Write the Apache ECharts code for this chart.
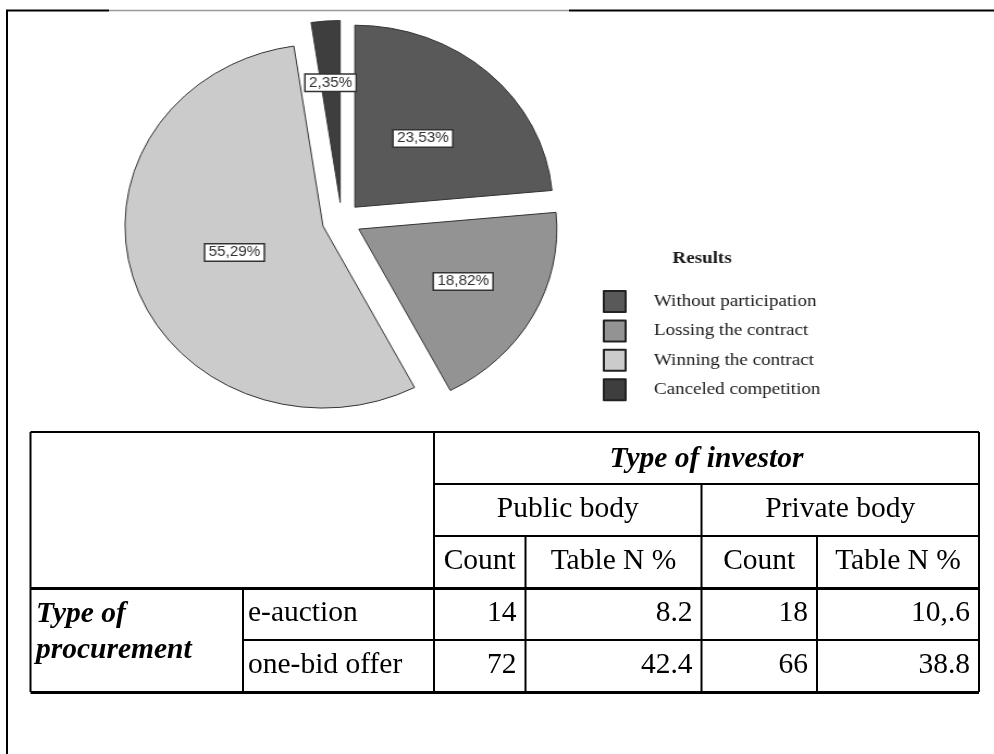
<!DOCTYPE html>
<html>
<head>
<meta charset="utf-8">
<title>Results</title>
<script src="https://cdn.jsdelivr.net/npm/echarts@6/dist/echarts.min.js"></script>
<style>
  html, body { margin: 0; padding: 0; background: #fff; }
  #page { position: relative; width: 994px; height: 754px; overflow: hidden; }
  #frame { position: absolute; left: 0; top: 0; width: 994px; height: 754px; }
  /* the source picture is stretched sideways, so the pie is an ellipse */
  #pie { position: absolute; left: 0; top: 0; width: 914px; height: 428px; transform: scaleX(1.088); transform-origin: 0 0; }
</style>
</head>
<body>
<div id="page">
  <div id="frame"></div>
  <div id="pie"></div>
</div>
<script>
// pie data
const results = ['Without participation', 'Lossing the contract', 'Winning the contract', 'Canceled competition']
const shares = [23.53, 18.82, 55.29, 2.35]
const sliceColors = ['#595959', '#939393', '#cbcbcb', '#3e3e3e']
const labelRadius = [0.51, 0.6, 0.47, 0.66]

// table data
const investorTypes = ['Public body', 'Private body']
const measureNames = ['Count', 'Table N %']
const procurementTypes = ['e-auction', 'one-bid offer']
const publicCount = ['14', '72']
const publicPct = ['8.2', '42.4']
const privateCount = ['18', '66']
const privatePct = ['10,.6', '38.8']

const PIE_CX = 314
const PIE_CY = 220.5
const PIE_R = 182
const PIE_OFFSET = 18

const pieChart = echarts.init(document.getElementById('pie'))
pieChart.setOption({
  animation: false,
  title: {
    text: 'Results',
    left: 618,
    top: 249,
    padding: 0,
    textStyle: { fontFamily: 'Liberation Serif', fontWeight: 'bold', fontSize: 17.5, color: '#1a1a1a' },
  },
  legend: {
    orient: 'vertical',
    left: 554,
    top: 290,
    padding: 0,
    selectedMode: false,
    icon: 'rect',
    itemWidth: 20,
    itemHeight: 21,
    itemGap: 6.4,
    itemStyle: { borderColor: '#222', borderWidth: 2 },
    textStyle: {
      fontFamily: 'Liberation Serif',
      fontSize: 17.5,
      lineHeight: 20,
      color: '#1a1a1a',
      padding: [0, 0, 0, 21],
    },
    data: results,
  },
  series: [
    {
      type: 'pie',
      center: [PIE_CX, PIE_CY],
      radius: PIE_R,
      startAngle: 90,
      clockwise: true,
      selectedMode: 'multiple',
      selectedOffset: PIE_OFFSET,
      avoidLabelOverlap: false,
      emphasis: { disabled: true },
      itemStyle: { borderColor: '#333', borderWidth: 1 },
      label: {
        show: true,
        position: 'inside',
        formatter: (p) => p.value.toFixed(2).replace('.', ',') + '%',
        fontFamily: 'Liberation Sans',
        fontSize: 14,
        color: '#333',
        backgroundColor: '#fff',
        borderColor: '#333',
        borderWidth: 1.5,
        padding: [1, 3],
      },
      labelLine: { show: false },
      // move each label along its slice to where it sits in the picture
      // (labelRect is measured before the selected offset is added)
      labelLayout: (params) => {
        const r = params.labelRect
        const vx = r.x + r.width / 2 - PIE_CX
        const vy = r.y + r.height / 2 - PIE_CY
        const len = Math.hypot(vx, vy)
        const k = (labelRadius[params.dataIndex] * PIE_R) / len - 1
        return { dx: vx * k, dy: vy * k }
      },
      data: results.map((name, i) => ({
        name,
        value: shares[i],
        selected: true,
        itemStyle: { color: sliceColors[i] },
      })),
    },
  ],
})

// frame + table
const colX = [30.5, 243, 434, 525.5, 701.5, 817, 979]
const rowY = [432, 484, 536, 588, 640, 692]
const TEXT_SHIFT = -1
const FONT = 'Liberation Serif'

function line(x1, y1, x2, y2, w, color) {
  return {
    type: 'line',
    shape: { x1, y1, x2, y2 },
    style: { stroke: color || '#000', lineWidth: w },
    silent: true,
  }
}

function text(str, x, y, align, bold) {
  return {
    type: 'text',
    x,
    y,
    silent: true,
    style: {
      text: str,
      fill: '#000',
      fontFamily: FONT,
      fontSize: 29.5,
      fontWeight: bold ? 'bold' : 'normal',
      fontStyle: bold ? 'italic' : 'normal',
      align,
      verticalAlign: 'middle',
    },
  }
}

const rowMid = (r) => (rowY[r] + rowY[r + 1]) / 2 + TEXT_SHIFT
const colMid = (a, b) => (colX[a] + colX[b]) / 2

const els = [
  // outer frame
  line(7, 10, 7, 754, 2),
  line(6, 10.5, 109, 10.5, 2),
  line(109, 10.5, 569, 10.5, 1.5, '#9a9a9a'),
  line(569, 10.5, 994, 10.5, 2),

  // table horizontals
  line(30.5, 432, 979, 432, 2),
  line(434, 484, 979, 484, 2),
  line(434, 536, 979, 536, 2),
  line(30.5, 588.5, 979, 588.5, 3),
  line(243, 640, 979, 640, 2),
  line(30.5, 692.5, 979, 692.5, 3),

  // table verticals
  line(30.5, 432, 30.5, 692, 2),
  line(979, 432, 979, 692, 2),
  line(434, 432, 434, 692, 2),
  line(243, 588, 243, 692, 2),
  line(525.5, 536, 525.5, 692, 2),
  line(701.5, 484, 701.5, 692, 2),
  line(817, 536, 817, 692, 2),

  // headers
  text('Type of investor', colMid(2, 6), rowMid(0) + 2, 'center', true),
  text(investorTypes[0], colMid(2, 4), rowMid(1), 'center'),
  text(investorTypes[1], colMid(4, 6), rowMid(1), 'center'),
  text(measureNames[0], colMid(2, 3), rowMid(2), 'center'),
  text(measureNames[1], colMid(3, 4), rowMid(2), 'center'),
  text(measureNames[0], colMid(4, 5), rowMid(2), 'center'),
  text(measureNames[1], colMid(5, 6), rowMid(2), 'center'),

  text('Type of', 36, 614, 'left', true),
  text('procurement', 36, 650, 'left', true),
]

procurementTypes.forEach((name, i) => {
  const y = rowMid(3 + i)
  els.push(text(name, colX[1] + 5, y, 'left'))
  const cells = [publicCount[i], publicPct[i], privateCount[i], privatePct[i]]
  cells.forEach((v, j) => {
    els.push(text(v, colX[3 + j] - 9, y, 'right'))
  })
})

const frameChart = echarts.init(document.getElementById('frame'))
frameChart.setOption({
  animation: false,
  graphic: { elements: els },
})
</script>
</body>
</html>
